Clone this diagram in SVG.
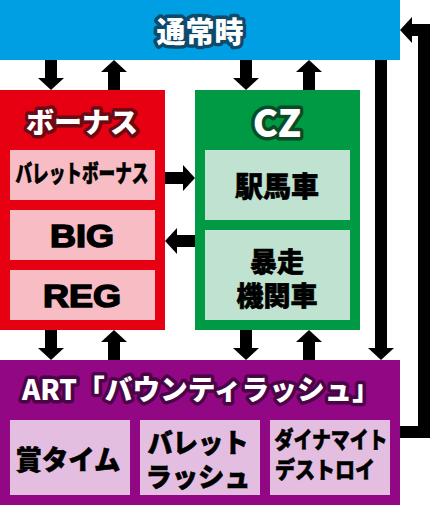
<svg xmlns="http://www.w3.org/2000/svg" width="430" height="505" viewBox="0 0 430 505">
<defs>
<style>
.ttl{font-family:"Noto Sans CJK JP","Noto Sans",sans-serif;font-weight:900;fill:#fff;paint-order:stroke;stroke-linejoin:round;text-anchor:middle;dominant-baseline:central}
.lbl{font-family:"Noto Sans CJK JP","Noto Sans",sans-serif;font-weight:900;fill:#000;stroke:#000;stroke-width:0.6;text-anchor:middle;dominant-baseline:central}
.lat{font-family:"Liberation Sans",Arial,sans-serif;font-weight:bold;fill:#000;stroke:#000;stroke-width:1.5;text-anchor:middle;dominant-baseline:central}
.arr{stroke:#000;stroke-width:12;fill:none;marker-end:url(#ah)}
</style>
<marker id="ah" markerUnits="userSpaceOnUse" markerWidth="14" markerHeight="28" viewBox="0 -14 14 28" refX="0" refY="0" orient="auto" overflow="visible">
<path d="M0,-13 L12,0 L0,13 Z" fill="#000"/>
</marker>
</defs>

<g id="normal">
<rect x="0" y="0" width="400" height="60" fill="#009FE3"/>
<text class="ttl" x="200" y="30" font-size="29" stroke="#0E4A6B" stroke-width="7">通常時</text>
</g>

<g id="bonus">
<rect x="0" y="90" width="165" height="240" fill="#E60012"/>
<text class="ttl" x="82" y="121" font-size="28" stroke="#6B0A14" stroke-width="7">ボーナス</text>
<rect x="10" y="150" width="145" height="50" fill="#F8BCC4"/>
<text class="lbl" x="82" y="171" font-size="24" textLength="133" lengthAdjust="spacingAndGlyphs">バレットボーナス</text>
<rect x="10" y="210" width="145" height="50" fill="#F8BCC4"/>
<text class="lat" x="82" y="236" font-size="32" textLength="64" lengthAdjust="spacingAndGlyphs">BIG</text>
<rect x="10" y="270" width="145" height="50" fill="#F8BCC4"/>
<text class="lat" x="82" y="296" font-size="32" textLength="78" lengthAdjust="spacingAndGlyphs">REG</text>
</g>

<g id="cz">
<rect x="195" y="90" width="165" height="240" fill="#009A44"/>
<text class="ttl" x="277" y="120" font-size="38" stroke="#0B4A27" stroke-width="7">CZ</text>
<rect x="205" y="150" width="145" height="70" fill="#BFE3D0"/>
<text class="lbl" x="277" y="185" font-size="28">駅馬車</text>
<rect x="205" y="230" width="145" height="90" fill="#BFE3D0"/>
<text class="lbl" font-size="27"><tspan x="277" y="260">暴走</tspan><tspan x="277" y="294">機関車</tspan></text>
</g>

<g id="art">
<rect x="0" y="360" width="400" height="145" fill="#920783"/>
<text class="ttl" x="201" y="388" font-size="28" stroke="#4A0546" stroke-width="7" textLength="358" lengthAdjust="spacingAndGlyphs">ART「バウンティラッシュ」</text>
<rect x="10" y="420" width="120" height="75" fill="#E3BEE0"/>
<text class="lbl" x="68" y="458" font-size="27" textLength="105" lengthAdjust="spacingAndGlyphs">賞タイム</text>
<rect x="140" y="420" width="120" height="75" fill="#E3BEE0"/>
<text class="lbl" font-size="27" lengthAdjust="spacingAndGlyphs"><tspan x="198" y="441" textLength="101" lengthAdjust="spacingAndGlyphs">バレット</tspan><tspan x="198" y="475" textLength="105" lengthAdjust="spacingAndGlyphs">ラッシュ</tspan></text>
<rect x="270" y="420" width="120" height="75" fill="#E3BEE0"/>
<text class="lbl" font-size="23"><tspan x="331" y="438" textLength="113" lengthAdjust="spacingAndGlyphs">ダイナマイト</tspan><tspan x="325" y="468" textLength="100" lengthAdjust="spacingAndGlyphs">デストロイ</tspan></text>
</g>

<g id="connectors">
<line class="arr" x1="51" y1="60" x2="51" y2="78"/>
<line class="arr" x1="114" y1="90" x2="114" y2="72"/>
<line class="arr" x1="246" y1="60" x2="246" y2="78"/>
<line class="arr" x1="309" y1="90" x2="309" y2="72"/>
<line class="arr" x1="165" y1="178" x2="183" y2="178"/>
<line class="arr" x1="195" y1="241" x2="177" y2="241"/>
<line class="arr" x1="51" y1="330" x2="51" y2="348"/>
<line class="arr" x1="114" y1="360" x2="114" y2="342"/>
<line class="arr" x1="246" y1="330" x2="246" y2="348"/>
<line class="arr" x1="309" y1="360" x2="309" y2="342"/>
<line class="arr" x1="381" y1="60" x2="381" y2="348"/>
<polyline class="arr" stroke-linejoin="miter" points="400,432 424,432 424,30 412,30"/>
</g>
</svg>
